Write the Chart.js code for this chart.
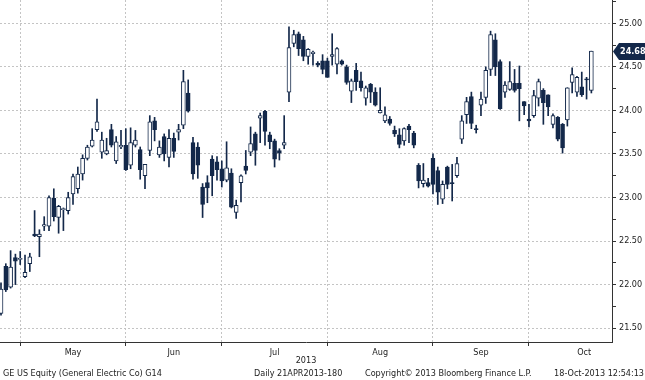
<!DOCTYPE html>
<html><head><meta charset="utf-8">
<script src="https://cdn.jsdelivr.net/npm/chart.js@4.4.0/dist/chart.umd.min.js"></script>
<style>html,body{margin:0;padding:0;background:#fff;overflow:hidden}#wrap{width:645px;height:380px;position:relative}</style>
</head><body><div id="wrap"><canvas id="c" width="645" height="380"></canvas></div>
<script>
// ---- data (trading days, 2013) ----
const dates = [
 '04-24','04-25','04-26','04-29','04-30',
 '05-01','05-02','05-03','05-06','05-07','05-08','05-09','05-10','05-13','05-14','05-15','05-16','05-17','05-20','05-21','05-22','05-23','05-24','05-28','05-29','05-30','05-31',
 '06-03','06-04','06-05','06-06','06-07','06-10','06-11','06-12','06-13','06-14','06-17','06-18','06-19','06-20','06-21','06-24','06-25','06-26','06-27','06-28',
 '07-01','07-02','07-03','07-05','07-08','07-09','07-10','07-11','07-12','07-15','07-16','07-17','07-18','07-19','07-22','07-23','07-24','07-25','07-26','07-29','07-30','07-31',
 '08-01','08-02','08-05','08-06','08-07','08-08','08-09','08-12','08-13','08-14','08-15','08-16','08-19','08-20','08-21','08-22','08-23','08-26','08-27','08-28','08-29','08-30',
 '09-03','09-04','09-05','09-06','09-09','09-10','09-11','09-12','09-13','09-16','09-17','09-18','09-19','09-20','09-23','09-24','09-25','09-26','09-27','09-30',
 '10-01','10-02','10-03','10-04','10-07','10-08','10-09','10-10','10-11','10-14','10-15','10-16','10-18'
];
const open = [
 21.67,22.21,21.97,22.31,22.29,
 22.09,22.24,22.58,22.55,22.67,22.67,22.99,22.77,22.86,22.85,23.04,23.10,23.27,23.45,23.59,23.78,23.52,23.50,23.78,23.42,23.58,23.60,
 23.37,23.60,23.55,23.25,23.54,23.88,23.49,23.70,23.46,23.68,23.75,23.83,24.20,23.63,23.58,23.12,23.17,23.44,23.41,23.33,
 23.20,23.28,22.83,23.17,23.36,23.52,23.73,23.91,23.99,23.72,23.65,23.54,23.60,24.21,24.77,24.88,24.81,24.62,24.65,24.54,24.57,24.57,
 24.62,24.53,24.57,24.50,24.22,24.46,24.34,24.14,24.30,24.21,23.97,23.88,23.90,23.77,23.72,23.65,23.82,23.74,23.37,23.16,23.17,23.45,
 23.31,22.98,23.35,23.17,23.25,23.67,23.95,24.16,23.79,24.06,24.15,24.47,24.81,24.56,24.21,24.24,24.31,24.31,24.10,23.90,
 23.94,24.14,24.23,24.18,23.84,23.92,23.84,23.89,24.32,24.21,24.27,24.36,24.23
];
const high = [
 22.02,22.24,22.39,22.35,22.38,
 22.34,22.36,22.85,22.63,22.78,23.02,23.10,22.91,22.88,23.06,23.27,23.35,23.49,23.60,23.79,24.13,23.75,23.68,23.84,23.70,23.77,23.79,
 23.80,23.77,23.58,23.38,23.94,23.92,23.65,23.73,23.78,23.74,23.84,24.46,24.35,23.69,23.63,23.16,23.25,23.48,23.47,23.42,
 23.64,23.33,22.97,23.26,23.54,23.81,23.75,23.97,24.00,23.75,23.67,23.56,23.94,24.96,24.92,24.90,24.85,24.71,24.68,24.56,24.64,24.60,
 24.88,24.72,24.58,24.52,24.36,24.54,24.44,24.28,24.31,24.26,24.26,24.04,23.93,23.82,23.79,23.80,23.84,23.76,23.39,23.39,23.22,23.50,
 23.35,23.19,23.36,23.38,23.46,23.94,24.15,24.21,23.83,24.21,24.50,24.91,24.88,24.58,24.33,24.56,24.47,24.51,24.10,24.07,
 24.23,24.36,24.25,24.18,23.96,23.93,23.85,24.26,24.49,24.39,24.44,24.38,24.68
];
const low = [
 21.65,21.92,21.96,22.00,22.23,
 22.08,22.15,22.55,22.32,22.62,22.62,22.73,22.59,22.62,22.81,22.92,23.05,23.20,23.43,23.58,23.76,23.45,23.49,23.58,23.39,23.56,23.31,
 23.33,23.58,23.21,23.10,23.48,23.65,23.46,23.42,23.35,23.46,23.66,23.79,23.98,23.21,23.22,22.77,22.94,23.02,23.20,23.12,
 23.18,22.88,22.76,22.95,23.27,23.48,23.37,23.63,23.60,23.56,23.35,23.43,23.56,24.10,24.73,24.63,24.57,24.53,24.52,24.50,24.42,24.38,
 24.52,24.42,24.52,24.30,24.09,24.23,24.22,24.06,24.09,24.05,23.97,23.86,23.83,23.70,23.57,23.60,23.63,23.57,23.11,23.12,23.12,23.04,
 22.92,22.93,23.10,22.96,23.23,23.62,23.85,23.79,23.74,23.94,24.08,24.40,24.40,24.01,24.15,24.23,24.21,23.88,23.95,23.81,
 23.92,24.05,23.84,23.94,23.80,23.65,23.51,23.82,24.20,24.16,24.16,24.13,24.20
];
const close = [
 21.95,21.94,22.20,22.27,22.30,
 22.14,22.32,22.56,22.58,22.69,23.00,22.78,22.90,22.87,23.00,23.24,23.27,23.45,23.58,23.66,23.87,23.66,23.54,23.60,23.64,23.60,23.32,
 23.63,23.66,23.32,23.38,23.87,23.78,23.58,23.50,23.68,23.53,23.78,24.33,23.99,23.27,23.37,22.92,23.11,23.25,23.32,23.19,
 23.34,22.89,22.91,23.25,23.31,23.62,23.54,23.94,23.76,23.64,23.44,23.51,23.63,24.72,24.87,24.71,24.62,24.70,24.67,24.52,24.47,24.38,
 24.64,24.71,24.53,24.32,24.34,24.33,24.26,24.26,24.21,24.06,24.00,23.95,23.85,23.73,23.61,23.79,23.78,23.60,23.19,23.20,23.13,23.15,
 23.06,23.15,23.15,23.16,23.39,23.88,24.10,23.85,23.78,24.13,24.46,24.87,24.50,24.02,24.29,24.33,24.23,24.25,24.05,23.88,
 24.17,24.33,24.09,24.04,23.94,23.67,23.57,24.26,24.41,24.38,24.18,24.35,24.68
];
const monthNames = ['May','Jun','Jul','Aug','Sep','Oct'];
const yearLabel = '2013';
const yLabelStep = 0.5;
const footerTexts = ['GE US Equity (General Electric Co) G14','Daily 21APR2013-180','Copyright\u00A9 2013 Bloomberg Finance L.P.','18-Oct-2013 12:54:13'];

// ---- derived ----
const NAVY = '#13284a';
const FONT = "'DejaVu Sans Condensed','Liberation Sans Narrow','Liberation Sans',sans-serif";
const idx = dates.map((d,i)=>i);
const boundaries = [];
for (let i=0;i<dates.length-1;i++){ if (dates[i].slice(0,2)!==dates[i+1].slice(0,2)) boundaries.push(i); }
const labelPos = [];
for (let k=0;k<monthNames.length;k++){
  const a = boundaries[k];
  const b = (k+1<boundaries.length) ? boundaries[k+1] : a + 23;
  labelPos.push((a+b)/2);
}
const tickLabelMap = new Map(labelPos.map((p,k)=>[p, monthNames[k]]));
const isBoundary = v => boundaries.includes(v);
const isHalf = v => Math.abs(v/yLabelStep - Math.round(v/yLabelStep)) < 1e-6;

const wickData = idx.map(i=>({x:i, y:[low[i], high[i]]}));
const bodyData = idx.map(i=>({x:i, y:[open[i], close[i]]}));

const decor = {
  id:'decor',
  afterDraw(chart){
    const ctx = chart.ctx, ca = chart.chartArea, ys = chart.scales.y;
    const lp = close[close.length-1];
    const y = Math.round(ys.getPixelForValue(lp)) + 0.5;
    const x0 = ca.right + 1;
    ctx.save();
    ctx.fillStyle = NAVY;
    ctx.beginPath();
    ctx.moveTo(x0, y);
    ctx.lineTo(x0+6, y-8.5);
    ctx.lineTo(645, y-8.5);
    ctx.lineTo(645, y+8.5);
    ctx.lineTo(x0+6, y+8.5);
    ctx.closePath();
    ctx.fill();
    ctx.fillStyle = '#fff';
    ctx.font = "bold 9px " + FONT;
    ctx.textBaseline = 'middle';
    ctx.textAlign = 'left';
    ctx.fillText(lp.toFixed(2), x0+7, y);
    ctx.fillStyle = '#222';
    ctx.font = "9px " + FONT;
    ctx.textAlign = 'center';
    ctx.fillText(yearLabel, (ca.left+ca.right)/2, 361);
    ctx.textAlign = 'left';
    ctx.fillText(footerTexts[0], 3, 374);
    ctx.fillText(footerTexts[1], 254, 374);
    ctx.fillText(footerTexts[2], 365, 374);
    ctx.textAlign = 'right';
    ctx.fillText(footerTexts[3], 644, 374);
    ctx.restore();
  }
};

const zeroPad = s => { s.paddingTop = 0; s.paddingBottom = 0; s.paddingLeft = 0; s.paddingRight = 0; };

new Chart(document.getElementById('c'), {
  type:'bar',
  data:{ datasets:[
    { data: wickData, backgroundColor: NAVY, borderWidth:0, barThickness:1, grouped:false, order:2 },
    { data: bodyData, backgroundColor: c => (close[c.dataIndex] > open[c.dataIndex]) ? '#ffffff' : NAVY,
      borderColor: NAVY, borderWidth:1, borderSkipped:false, barThickness:4, minBarLength:1, grouped:false, order:1 }
  ]},
  options:{
    responsive:false, animation:false, devicePixelRatio:1, events:[],
    layout:{ padding:0 },
    plugins:{ legend:{display:false}, tooltip:{enabled:false} },
    scales:{
      x:{
        type:'linear', min:-0.21, max:127.3, offset:false,
        afterBuildTicks: s => {
          const vals = boundaries.concat(labelPos).sort((a,b)=>a-b);
          s.ticks = vals.map(v=>({value:v}));
        },
        afterFit: s => { s.height = 38; zeroPad(s); },
        ticks:{ autoSkip:false, maxRotation:0, padding:1, color:'#222', font:{family:FONT, size:9},
          callback: v => tickLabelMap.get(v) || '' },
        grid:{ offset:false, tickLength:4,
          color: c => (c.tick && isBoundary(c.tick.value)) ? '#c4c4c4' : 'rgba(0,0,0,0)',
          tickColor: c => (c.tick && isBoundary(c.tick.value)) ? '#333' : 'rgba(0,0,0,0)' },
        border:{ display:true, color:'#333', width:1, dash:[2,2] }
      },
      y:{
        position:'right', min:21.341, max:25.2675,
        afterFit: s => { s.width = 33; zeroPad(s); },
        ticks:{ stepSize:0.25, includeBounds:false, autoSkip:false, padding:3, color:'#222', font:{family:FONT, size:9},
          callback: v => isHalf(v) ? v.toFixed(2) : '' },
        grid:{ tickLength:4,
          color: c => (c.tick && isHalf(c.tick.value)) ? '#c4c4c4' : 'rgba(0,0,0,0)',
          tickColor:'#333' },
        border:{ display:true, color:'#333', width:1, dash:[2,2] }
      }
    }
  },
  plugins:[decor]
});
</script></body></html>
